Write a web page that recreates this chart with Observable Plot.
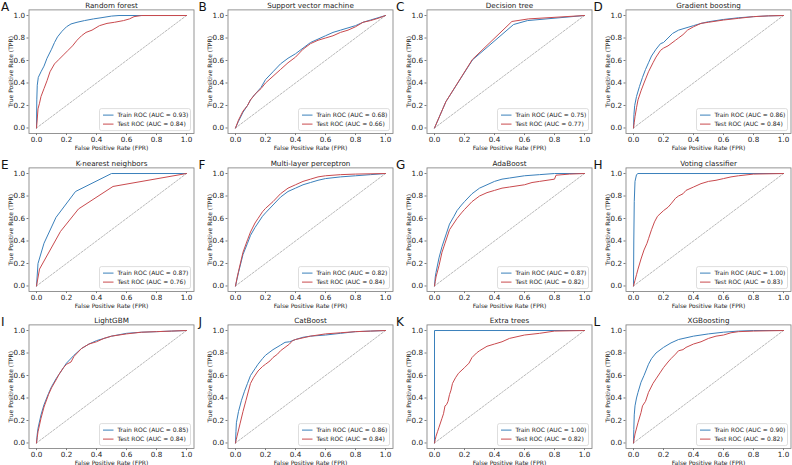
<!DOCTYPE html>
<html>
<head>
<meta charset="utf-8">
<script src="https://cdn.jsdelivr.net/npm/d3@7"></script>
<script src="https://cdn.jsdelivr.net/npm/@observablehq/plot@0.6"></script>
<style>
  html, body { margin: 0; padding: 0; background: #fff; }
  body { width: 792px; height: 465px; overflow: hidden; font-family: "DejaVu Sans", sans-serif; }
  #grid { position: relative; width: 792px; height: 465px; }
  .panel { position: absolute; width: 199px; height: 158px; }
  .panel svg { overflow: visible; background: transparent; }
</style>
</head>
<body>
<div id="grid"></div>
<script>
// ---------- DATA ----------
const letters = ["A","B","C","D","E","F","G","H","I","J","K","L"];
const titles = ["Random forest","Support vector machine","Decision tree","Gradient boosting",
  "K-nearest neighbors","Multi-layer perceptron","AdaBoost","Voting classifier",
  "LightGBM","CatBoost","Extra trees","XGBoosting"];
const trainAUC = ["0.93","0.68","0.75","0.86","0.87","0.82","0.87","1.00","0.85","0.86","1.00","0.90"];
const testAUC  = ["0.84","0.66","0.77","0.84","0.76","0.84","0.82","0.83","0.84","0.84","0.82","0.82"];
const tickValues = [0, 0.2, 0.4, 0.6, 0.8, 1.0];
const chanceLine = [0, 1];

const rfTrain = [[0,0],[0.002,0.25],[0.005,0.38],[0.012,0.45],[0.03,0.5],[0.05,0.55],[0.07,0.62],[0.1,0.7],[0.12,0.76],[0.14,0.81],[0.17,0.86],[0.2,0.9],[0.23,0.925],[0.27,0.94],[0.32,0.955],[0.38,0.97],[0.43,0.98],[0.5,0.995],[0.55,1],[1,1]];
const rfTest = [[0,0],[0.005,0.08],[0.01,0.17],[0.02,0.22],[0.03,0.28],[0.05,0.35],[0.07,0.42],[0.09,0.5],[0.12,0.57],[0.15,0.61],[0.18,0.65],[0.21,0.69],[0.24,0.73],[0.27,0.78],[0.3,0.82],[0.33,0.85],[0.37,0.87],[0.42,0.91],[0.47,0.93],[0.52,0.94],[0.58,0.955],[0.62,0.97],[0.65,0.99],[0.7,1],[1,1]];

const svmTrain = [[0,0],[0.02,0.06],[0.05,0.14],[0.08,0.2],[0.1,0.25],[0.13,0.3],[0.17,0.36],[0.2,0.43],[0.25,0.5],[0.3,0.57],[0.35,0.62],[0.4,0.66],[0.45,0.71],[0.5,0.76],[0.55,0.79],[0.6,0.82],[0.65,0.85],[0.7,0.87],[0.75,0.89],[0.8,0.91],[0.85,0.94],[0.9,0.96],[0.95,0.98],[1,1]];
const svmTest = [[0,0],[0.02,0.07],[0.05,0.15],[0.08,0.2],[0.1,0.25],[0.13,0.3],[0.17,0.35],[0.2,0.4],[0.25,0.46],[0.3,0.52],[0.35,0.58],[0.4,0.63],[0.45,0.7],[0.5,0.75],[0.55,0.78],[0.6,0.8],[0.65,0.82],[0.7,0.85],[0.75,0.87],[0.8,0.9],[0.85,0.94],[0.9,0.955],[0.95,0.975],[1,1]];

const dtTrain = [[0,0],[0.076,0.234],[0.253,0.605],[0.527,0.92],[0.62,0.955],[1,1]];
const dtTest = [[0,0],[0.076,0.234],[0.253,0.61],[0.516,0.947],[0.627,0.97],[1,1]];

const gbTrain = [[0,0],[0.003,0.12],[0.008,0.2],[0.02,0.28],[0.04,0.37],[0.06,0.45],[0.08,0.52],[0.1,0.58],[0.12,0.64],[0.15,0.7],[0.18,0.75],[0.2,0.76],[0.23,0.8],[0.26,0.84],[0.3,0.87],[0.35,0.89],[0.4,0.91],[0.45,0.93],[0.5,0.945],[0.6,0.965],[0.7,0.98],[0.8,0.99],[0.9,0.997],[1,1]];
const gbTest = [[0,0],[0.005,0.05],[0.01,0.1],[0.02,0.18],[0.03,0.25],[0.05,0.33],[0.07,0.4],[0.1,0.5],[0.13,0.58],[0.15,0.63],[0.18,0.69],[0.2,0.71],[0.23,0.73],[0.25,0.75],[0.28,0.78],[0.3,0.8],[0.33,0.83],[0.36,0.87],[0.4,0.9],[0.45,0.93],[0.5,0.94],[0.6,0.96],[0.7,0.975],[0.8,0.99],[0.9,0.997],[1,1]];

const knnTrain = [[0,0],[0.01,0.2],[0.05,0.38],[0.13,0.61],[0.26,0.84],[0.5,1],[1,1]];
const knnTest = [[0,0],[0.02,0.15],[0.16,0.485],[0.28,0.685],[0.51,0.885],[1,1]];

const mlpTrain = [[0,0],[0.01,0.06],[0.02,0.12],[0.05,0.28],[0.08,0.38],[0.1,0.45],[0.13,0.52],[0.15,0.56],[0.18,0.62],[0.2,0.65],[0.25,0.72],[0.3,0.79],[0.35,0.84],[0.4,0.87],[0.45,0.9],[0.5,0.92],[0.55,0.94],[0.6,0.955],[0.7,0.97],[0.8,0.98],[0.9,0.99],[1,1]];
const mlpTest = [[0,0],[0.01,0.07],[0.02,0.13],[0.05,0.3],[0.08,0.41],[0.1,0.48],[0.13,0.56],[0.15,0.6],[0.18,0.66],[0.2,0.69],[0.25,0.75],[0.3,0.82],[0.35,0.87],[0.4,0.9],[0.45,0.93],[0.5,0.95],[0.55,0.97],[0.6,0.98],[0.7,0.99],[0.8,0.995],[1,1]];

const adaTrain = [[0,0],[0.005,0.08],[0.01,0.12],[0.03,0.25],[0.05,0.35],[0.08,0.47],[0.1,0.55],[0.13,0.62],[0.15,0.67],[0.18,0.72],[0.2,0.75],[0.25,0.82],[0.3,0.87],[0.35,0.9],[0.4,0.93],[0.45,0.95],[0.5,0.96],[0.6,0.98],[0.7,0.99],[0.8,1],[1,1]];
const adaTest = [[0,0],[0.005,0.04],[0.01,0.08],[0.03,0.18],[0.05,0.3],[0.07,0.38],[0.1,0.5],[0.13,0.56],[0.15,0.6],[0.18,0.65],[0.2,0.68],[0.25,0.75],[0.3,0.8],[0.35,0.83],[0.4,0.85],[0.45,0.87],[0.5,0.88],[0.55,0.89],[0.6,0.9],[0.65,0.92],[0.7,0.93],[0.75,0.94],[0.8,0.95],[0.81,0.985],[0.9,0.995],[1,1]];

const votTrain = [[0,0],[0.002,0.4],[0.005,0.75],[0.01,0.93],[0.02,0.99],[0.03,1],[1,1]];
const votTest = [[0,0],[0.01,0.05],[0.02,0.1],[0.03,0.15],[0.05,0.24],[0.07,0.32],[0.09,0.38],[0.1,0.42],[0.12,0.5],[0.14,0.57],[0.16,0.62],[0.2,0.67],[0.23,0.7],[0.25,0.73],[0.28,0.78],[0.3,0.8],[0.33,0.82],[0.35,0.85],[0.4,0.88],[0.45,0.91],[0.5,0.93],[0.55,0.94],[0.6,0.955],[0.65,0.97],[0.7,0.98],[0.8,0.995],[1,1]];

const lgbTrain = [[0,0],[0.005,0.08],[0.01,0.13],[0.03,0.25],[0.05,0.34],[0.08,0.44],[0.1,0.5],[0.13,0.57],[0.15,0.61],[0.18,0.67],[0.2,0.71],[0.25,0.78],[0.3,0.84],[0.35,0.88],[0.4,0.91],[0.45,0.93],[0.5,0.95],[0.6,0.975],[0.7,0.985],[0.8,0.99],[0.9,0.995],[1,1]];
const lgbTest = [[0,0],[0.005,0.05],[0.01,0.1],[0.03,0.22],[0.05,0.32],[0.08,0.43],[0.1,0.49],[0.13,0.56],[0.15,0.61],[0.18,0.67],[0.2,0.7],[0.23,0.72],[0.25,0.77],[0.3,0.84],[0.35,0.88],[0.4,0.9],[0.45,0.93],[0.5,0.95],[0.6,0.97],[0.7,0.985],[0.8,0.99],[0.9,0.995],[1,1]];

const catTrain = [[0,0],[0.003,0.1],[0.006,0.18],[0.02,0.28],[0.04,0.38],[0.06,0.46],[0.08,0.53],[0.1,0.6],[0.13,0.66],[0.15,0.7],[0.18,0.75],[0.2,0.78],[0.25,0.83],[0.3,0.87],[0.33,0.895],[0.36,0.9],[0.4,0.92],[0.45,0.94],[0.5,0.95],[0.6,0.96],[0.7,0.975],[0.8,0.99],[0.9,0.995],[1,1]];
const catTest = [[0,0],[0.005,0.03],[0.01,0.06],[0.03,0.17],[0.05,0.28],[0.07,0.38],[0.09,0.48],[0.1,0.53],[0.12,0.58],[0.15,0.64],[0.18,0.68],[0.2,0.7],[0.23,0.73],[0.25,0.76],[0.28,0.79],[0.3,0.82],[0.33,0.85],[0.36,0.88],[0.38,0.91],[0.4,0.92],[0.45,0.935],[0.5,0.95],[0.6,0.97],[0.7,0.98],[0.8,0.99],[0.9,0.995],[1,1]];

const etTrain = [[0,0],[0,1],[1,1]];
const etTest = [[0,0],[0.005,0.03],[0.01,0.06],[0.02,0.1],[0.03,0.14],[0.05,0.22],[0.06,0.26],[0.07,0.33],[0.08,0.34],[0.09,0.37],[0.1,0.43],[0.11,0.47],[0.12,0.53],[0.14,0.58],[0.16,0.62],[0.2,0.67],[0.23,0.71],[0.25,0.76],[0.28,0.8],[0.3,0.82],[0.35,0.86],[0.4,0.88],[0.45,0.9],[0.5,0.93],[0.55,0.945],[0.6,0.96],[0.7,0.975],[0.8,0.995],[1,1]];

const xgbTrain = [[0,0],[0.002,0.12],[0.005,0.25],[0.01,0.33],[0.02,0.4],[0.03,0.45],[0.05,0.54],[0.07,0.6],[0.1,0.7],[0.12,0.75],[0.15,0.8],[0.2,0.85],[0.25,0.89],[0.3,0.92],[0.35,0.935],[0.4,0.95],[0.45,0.96],[0.5,0.97],[0.6,0.985],[0.7,0.995],[0.8,1],[1,1]];
const xgbTest = [[0,0],[0.005,0.04],[0.01,0.08],[0.03,0.18],[0.05,0.27],[0.06,0.33],[0.08,0.37],[0.1,0.45],[0.13,0.53],[0.15,0.57],[0.18,0.63],[0.2,0.67],[0.23,0.72],[0.25,0.75],[0.28,0.79],[0.3,0.82],[0.33,0.83],[0.35,0.85],[0.4,0.88],[0.45,0.9],[0.5,0.93],[0.55,0.95],[0.6,0.96],[0.65,0.98],[0.7,0.99],[0.8,0.995],[1,1]];

const trainCurves = [rfTrain, svmTrain, dtTrain, gbTrain, knnTrain, mlpTrain, adaTrain, votTrain, lgbTrain, catTrain, etTrain, xgbTrain];
const testCurves  = [rfTest, svmTest, dtTest, gbTest, knnTest, mlpTest, adaTest, votTest, lgbTest, catTest, etTest, xgbTest];

// ---------- LAYOUT / STYLE ----------
const TRAIN_COLOR = "#3a80bb";
const TEST_COLOR = "#c94a4e";
const FONT = "DejaVu Sans";
const W = 199, H = 158;
const mL = 28.5, mR = 5.5, mT = 9.4, mB = 24.9;
const colStep = 199, rowStep = 157.6;
const fmt = d3.format(".1f");

const grid = document.getElementById("grid");

titles.forEach((title, i) => {
  const c = i % 4, r = Math.floor(i / 4);
  const div = document.createElement("div");
  div.className = "panel";
  div.style.left = (c * colStep) + "px";
  div.style.top = (r * rowStep) + "px";

  const chart = Plot.plot({
    width: W, height: H,
    marginLeft: mL, marginRight: mR, marginTop: mT, marginBottom: mB,
    style: {fontFamily: FONT, overflow: "visible", background: "transparent"},
    x: {domain: [-0.05, 1.05]},
    y: {domain: [-0.05, 1.05]},
    marks: [
      Plot.line(chanceLine, {x: d => d, y: d => d, stroke: "#8a8a8a", strokeWidth: 0.6, strokeDasharray: "2,1.5"}),
      Plot.line(trainCurves[i], {x: d => d[0], y: d => d[1], stroke: TRAIN_COLOR, strokeWidth: 1}),
      Plot.line(testCurves[i], {x: d => d[0], y: d => d[1], stroke: TEST_COLOR, strokeWidth: 1}),
      Plot.frame({stroke: "#7a7a7a", strokeWidth: 0.8}),
      Plot.axisX({ticks: tickValues, tickFormat: fmt, tickSize: 2, tickPadding: 1.5, fontSize: 7.2, label: null, stroke: "#7a7a7a", fill: "#222"}),
      Plot.axisY({ticks: tickValues, tickFormat: fmt, tickSize: 2, tickPadding: 2, fontSize: 7.2, label: null, stroke: "#7a7a7a", fill: "#222"}),
      Plot.text([title], {frameAnchor: "top", dy: -2, lineAnchor: "bottom", fontSize: 7.2, fill: "#222"}),
      Plot.text(["False Positive Rate (FPR)"], {frameAnchor: "bottom", dy: 14, lineAnchor: "middle", textAnchor: "middle", fontSize: 6, fill: "#222"}),
      Plot.text(["True Positive Rate (TPR)"], {frameAnchor: "left", dx: -17.5, rotate: -90, lineAnchor: "middle", textAnchor: "middle", fontSize: 6, fill: "#222"})
    ]
  });

  // legend (inside the frame, lower right) and panel letter
  const svg = d3.select(chart);
  const frameRight = W - mR, frameBottom = H - mB;
  const bw = 91, bh = 22;
  const bx = frameRight - 3 - bw, by = frameBottom - 2.5 - bh;
  const lg = svg.append("g").attr("font-family", FONT).attr("font-size", 6).attr("text-anchor", "start");
  lg.append("rect").attr("x", bx).attr("y", by).attr("width", bw).attr("height", bh)
    .attr("rx", 2).attr("fill", "white").attr("fill-opacity", 0.8).attr("stroke", "#c8c8c8").attr("stroke-width", 0.6);
  const entries = [[TRAIN_COLOR, `Train ROC (AUC = ${trainAUC[i]})`], [TEST_COLOR, `Test ROC (AUC = ${testAUC[i]})`]];
  entries.forEach(([col, label], k) => {
    const yy = by + 6.5 + k * 9;
    lg.append("line").attr("x1", bx + 3.5).attr("x2", bx + 14).attr("y1", yy).attr("y2", yy)
      .attr("stroke", col).attr("stroke-width", 1);
    lg.append("text").attr("x", bx + 18).attr("y", yy).attr("dy", "0.35em").attr("fill", "#222")
      .attr("text-anchor", "start").text(label);
  });
  svg.append("text").attr("x", 1 - 1.5 * c).attr("y", 10.5).attr("text-anchor", "start")
    .attr("font-family", FONT).attr("font-size", 12).attr("fill", "#111").text(letters[i]);

  div.appendChild(chart);
  grid.appendChild(div);
});
</script>
</body>
</html>
